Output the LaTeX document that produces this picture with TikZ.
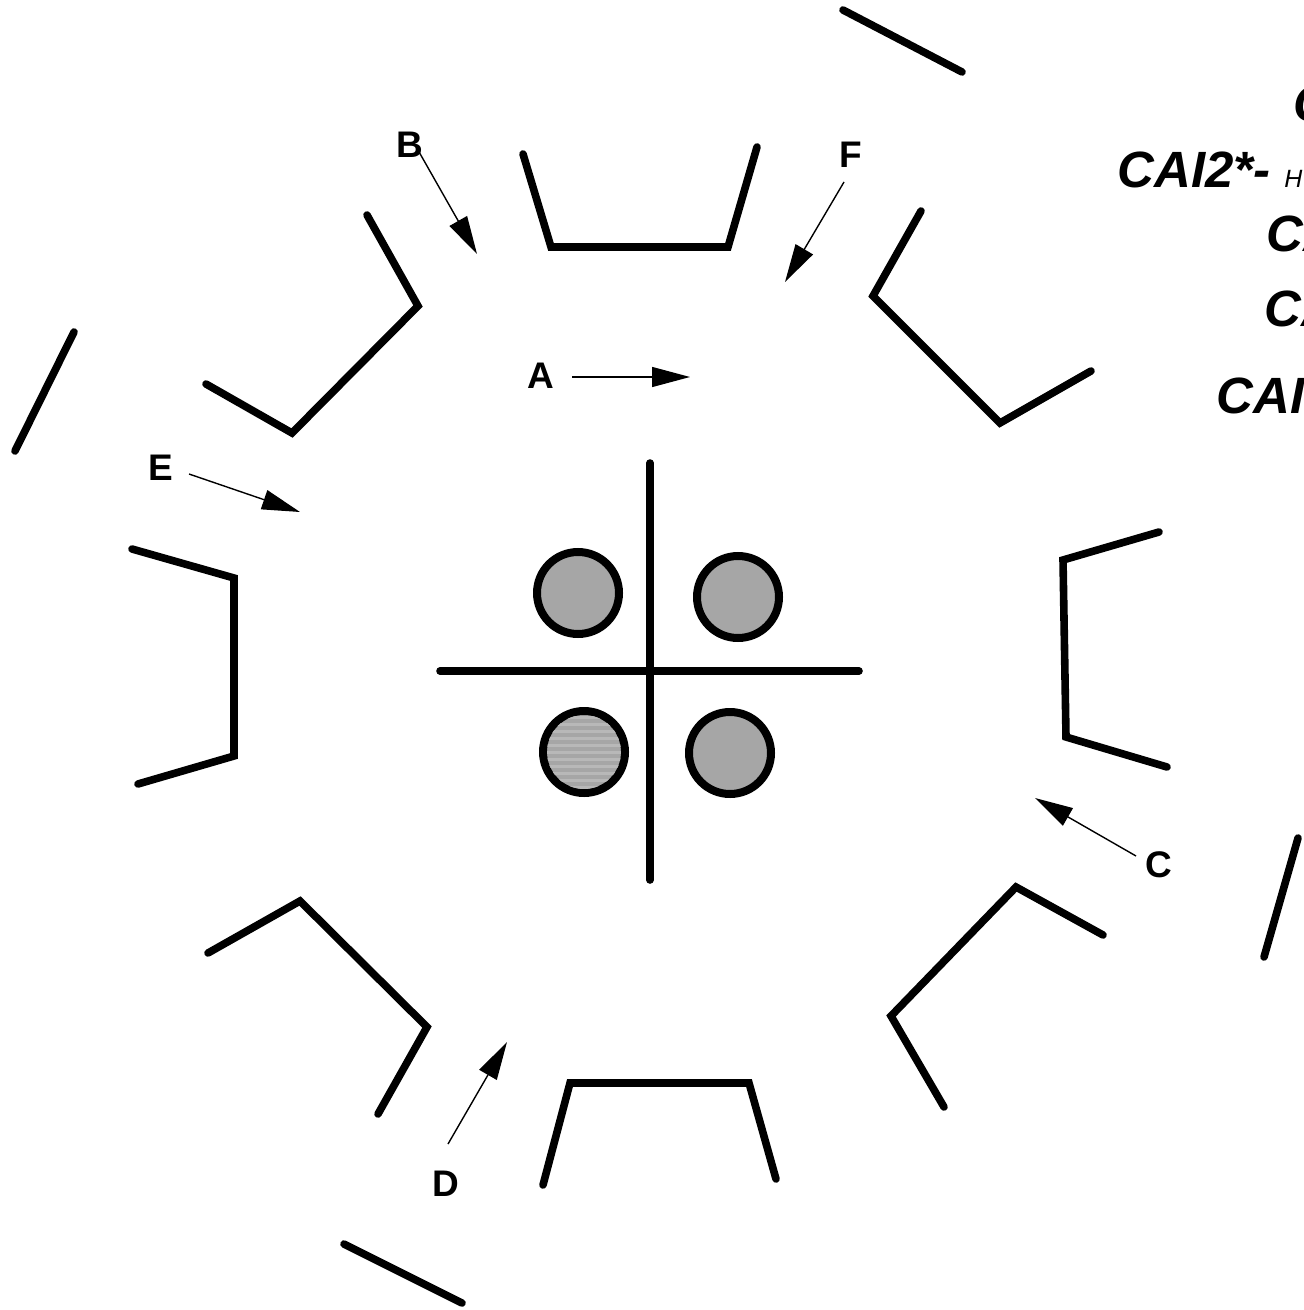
\documentclass[tikz,border=0pt]{standalone}
\usepackage{fontspec}
\setmainfont{Liberation Sans}
\usetikzlibrary{arrows.meta}
\definecolor{discgray}{HTML}{A6A6A6}
\definecolor{stripegray}{HTML}{B8B8B8}
\tikzset{
  wall/.style={line width=3.8pt,line cap=round,line join=miter,draw=black},
  disc/.style={circle,draw=black,line width=4pt,fill=discgray,minimum size=41pt,inner sep=0pt},
  letter/.style={font=\fontsize{18.5}{20}\selectfont\bfseries,inner sep=0pt,text=black},
  legend/.style={font=\fontsize{25.5}{28}\selectfont\bfseries\itshape,inner sep=0pt,anchor=base west,text=black},
  pointer/.style={line width=0.7pt,-{Triangle[length=19pt,width=10pt]}},
}
\begin{document}
\begin{tikzpicture}[x=0.5pt,y=-0.5pt]
\useasboundingbox (0,0) rectangle (1304,1310);
\clip (0,0) rectangle (1304,1310);
% outer strokes
\draw[wall] (843,10) -- (962,72);
\draw[wall] (74,332) -- (15,451);
\draw[wall] (1298,838) -- (1264,957);
\draw[wall] (344,1244) -- (462,1303);
% octagon walls
\draw[wall] (523,154) -- (551,247) -- (728,247) -- (757,147);
\draw[wall] (367,215) -- (418,306) -- (292,433) -- (206,384);
\draw[wall] (921,211) -- (873,296) -- (1000,423) -- (1091,371);
\draw[wall] (132,549) -- (234,578) -- (234,756) -- (138,784);
\draw[wall] (1159,532) -- (1063,560) -- (1066,737) -- (1167,767);
\draw[wall] (208,953) -- (300,901) -- (427,1027) -- (378,1114);
\draw[wall] (1103,935) -- (1016,887) -- (891,1016) -- (944,1107);
\draw[wall] (543,1185) -- (570,1083) -- (749,1083) -- (776,1179);
% cross
\draw[wall] (650,463) -- (650,880);
\draw[wall] (440,671) -- (859,671);
% discs
\node[disc] (d1) at (578,593) {};
\node[disc] (d2) at (738,597) {};
\node[disc] (d3) at (584,752) {};
\node[disc] (d4) at (730,753) {};
\begin{scope}
  \clip (584,752) circle[radius=37];
  \foreach \yy in {716,723,...,788}
    \fill[stripegray] (540,\yy) rectangle (630,\yy+3);
\end{scope}
% labels and arrows
\node[letter] (la) at (541,376) {A};
\node[letter] (lb) at (410,145) {B};
\node[letter] (lc) at (1159,865) {C};
\node[letter] (ld) at (446,1184) {D};
\node[letter] (le) at (161,468) {E};
\node[letter] (lf) at (851,155) {F};
\coordinate (ta) at (690,377);
\coordinate (tb) at (477,254);
\coordinate (tc) at (1035,798);
\coordinate (td) at (507,1042);
\coordinate (te) at (300,512);
\coordinate (tf) at (785,282);
\coordinate (sa) at (572,377);
\coordinate (sc) at (1136,856);
\coordinate (sd) at (448,1144);
\coordinate (se) at (189,474);
\coordinate (sf) at (844,182);
\draw[pointer] (sa) -- (ta);
\draw[pointer] (lb.south) ++(8,-8) -- (tb);
\draw[pointer] (sc) -- (tc);
\draw[pointer] (sd) -- (td);
\draw[pointer] (se) -- (te);
\draw[pointer] (sf) -- (tf);
% clipped legend
\node[legend] (t1) at (1293,122) {C};
\node[legend] (t2) at (1117,188) {CAI2*-\hspace{7pt}\fontsize{12.5}{14}\selectfont\mdseries H};
\node[legend] (t3) at (1266,252) {CA};
\node[legend] (t4) at (1264,327) {CA};
\node[legend] (t5) at (1216,413) {CAI};
\end{tikzpicture}
\end{document}
